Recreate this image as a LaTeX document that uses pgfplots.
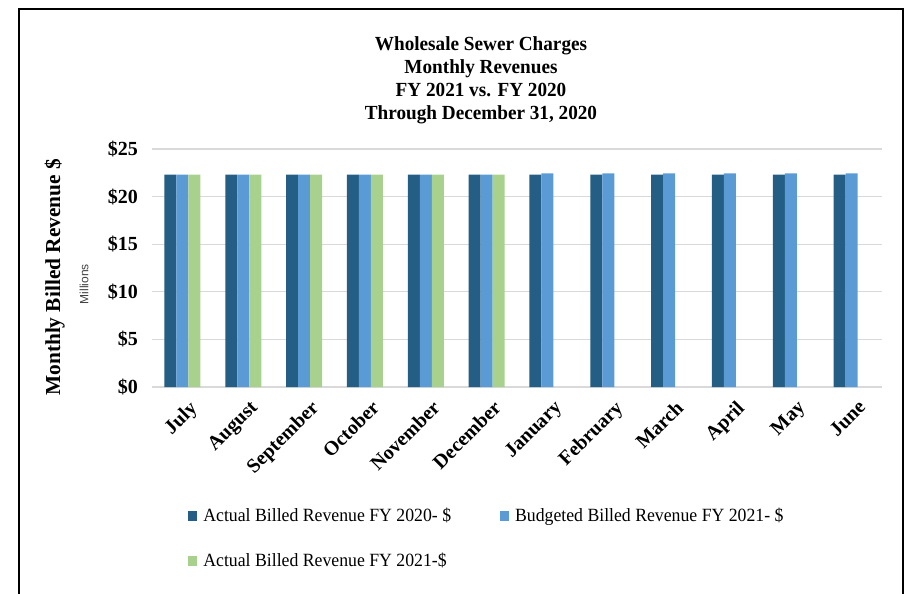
\documentclass[border=0pt]{standalone}
\usepackage{fontspec}
\setmainfont{Liberation Serif}
\newfontfamily\titlefont[FakeStretch=0.96]{Liberation Serif}
\newfontfamily\legfont[FakeStretch=0.95]{Liberation Serif}
\newfontfamily\sansfont{Liberation Sans}
\usepackage{pgfplots}
\pgfplotsset{compat=1.18}
\definecolor{cDark}{HTML}{245E84}
\definecolor{cMid}{HTML}{5B9BD5}
\definecolor{cGreen}{HTML}{A9D18E}
\definecolor{cGrid}{HTML}{D9D9D9}
\begin{document}
\begin{tikzpicture}
\path[use as bounding box] (0pt,0pt) rectangle (682.5pt,-444.75pt);
\draw[line width=1.1pt] (14.25pt,-450pt) -- (14.25pt,-6.75pt) -- (677.25pt,-6.75pt) -- (677.25pt,-450pt);
\node[align=center, font=\titlefont\bfseries\fontsize{15}{17.3}\selectfont] at (360.75pt,-60pt)
  {Wholesale Sewer Charges\\Monthly Revenues\\FY 2021 vs. FY 2020\\Through December 31, 2020};
\node[rotate=90, font=\bfseries\fontsize{16}{18}\selectfont] at (41pt,-208pt) {Monthly Billed Revenue \$};
\node[rotate=90, font=\sansfont\fontsize{9}{10}\selectfont, text=black!75] at (63pt,-213pt) {Millions};
\begin{axis}[
  at={(114pt,-290.25pt)}, anchor=south west,
  width=547.5pt, height=178.5pt, scale only axis,
  ybar=0pt, bar width=9pt,
  xmin=-0.5, xmax=11.5, ymin=0, ymax=25,
  ytick={0,5,10,15,20,25},
  xtick=data,
  xticklabels={July,August,September,October,November,December,January,February,March,April,May,June},
  x tick label style={rotate=45, anchor=north east, font=\bfseries\fontsize{15}{17}\selectfont, xshift=0pt, yshift=-6pt},
  yticklabel={\$\pgfmathprintnumber[assume math mode=true]{\tick}},
  y tick label style={font=\bfseries\fontsize{15}{17}\selectfont, xshift=-7pt},
  axis line style={draw=none},
  major tick length=0pt,
  ymajorgrids, grid style={cGrid, line width=0.8pt},
  legend columns=2,
  legend cell align=left,
  legend style={at={(axis description cs:0.049,-0.50)}, anchor=north west, draw=none, inner sep=0pt,
    font=\legfont\fontsize{14}{16}\selectfont, row sep=19pt,
    nodes={inner sep=1.5pt},
    /tikz/every odd column/.style={column sep=3pt},
    /tikz/column 2/.style={column sep=35pt}},
  legend image code/.code={\fill[#1] (0pt,-3.5pt) rectangle (7pt,3.5pt);},
]
\addplot[fill=cDark, draw=none] coordinates {(0,22.3) (1,22.3) (2,22.3) (3,22.3) (4,22.3) (5,22.3) (6,22.3) (7,22.3) (8,22.3) (9,22.3) (10,22.3) (11,22.3)};
\addplot[fill=cMid, draw=none] coordinates {(0,22.3) (1,22.3) (2,22.3) (3,22.3) (4,22.3) (5,22.3) (6,22.45) (7,22.45) (8,22.45) (9,22.45) (10,22.45) (11,22.45)};
\addplot[fill=cGreen, draw=none] coordinates {(0,22.3) (1,22.3) (2,22.3) (3,22.3) (4,22.3) (5,22.3)};
\legend{Actual Billed Revenue FY 2020- \$, Budgeted Billed Revenue FY 2021- \$, Actual Billed Revenue FY 2021-\$}
\end{axis}
\end{tikzpicture}
\end{document}
